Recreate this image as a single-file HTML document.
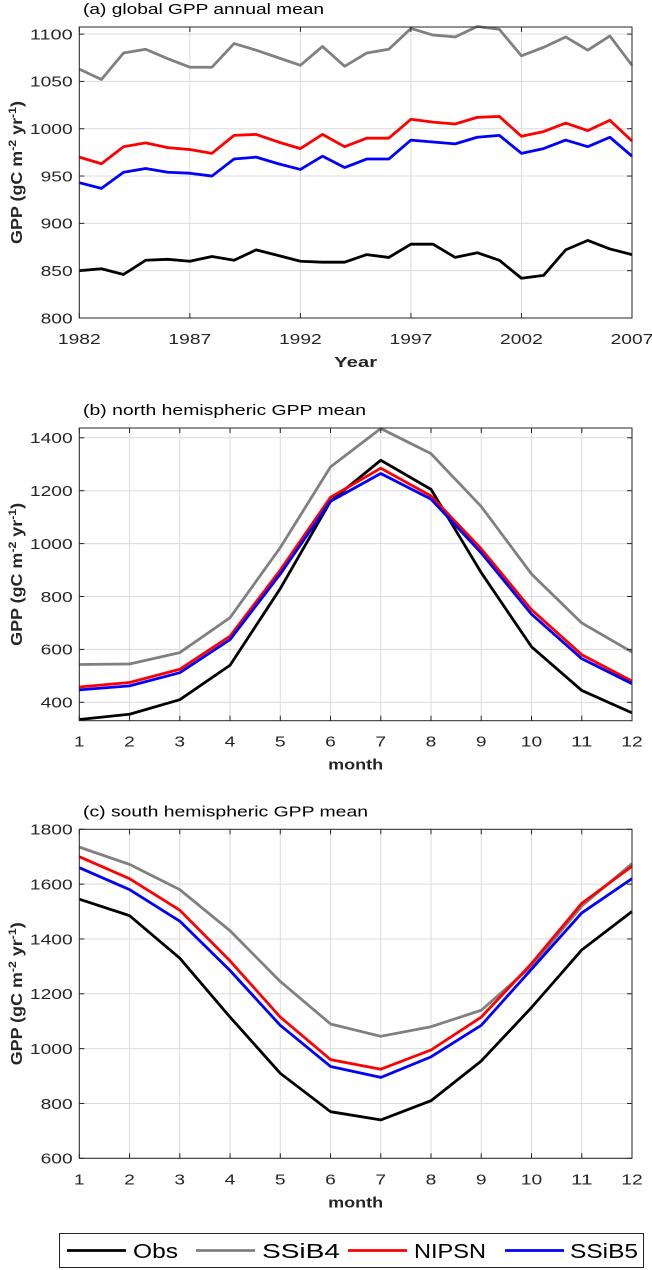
<!DOCTYPE html>
<html><head><meta charset="utf-8"><style>
html,body{margin:0;padding:0;background:#fff;}
svg{display:block;font-family:"Liberation Sans",Arial,sans-serif;}
</style></head><body>
<svg id="fig" width="652" height="1270" viewBox="0 0 652 1270"></svg>
<script>
const years=[1982,1983,1984,1985,1986,1987,1988,1989,1990,1991,1992,1993,1994,1995,1996,1997,1998,1999,2000,2001,2002,2003,2004,2005,2006,2007];
const aObs=[850,852,846,861,862,860,865,861,872,866,860,859,859,867,864,878,878,864,869,861,842,845,872,882,873,867];
const aSSiB4=[1063,1052,1080,1084,1074,1065,1065,1090,1083,1075,1067,1087,1066,1080,1084,1106,1099,1097,1108,1105,1077,1086,1097,1083,1098,1067];
const aNIPSN=[970,963,981,985,980,978,974,993,994,986,979,994,981,990,990,1010,1007,1005,1012,1013,992,997,1006,998,1009,987];
const aSSiB5=[943,937,954,958,954,953,950,968,970,963,957,971,959,968,968,988,986,984,991,993,974,979,988,981,991,971];
const months=[1,2,3,4,5,6,7,8,9,10,11,12];
const bObs=[335,355,410,540,830,1160,1315,1205,890,610,445,360];
const bSSiB4=[543,545,588,720,985,1290,1435,1340,1140,885,700,590];
const bNIPSN=[458,475,525,650,900,1175,1285,1180,980,750,580,480];
const bSSiB5=[447,462,512,637,885,1160,1265,1168,965,733,565,470];
const cObs=[1545,1485,1330,1115,910,770,740,810,955,1150,1360,1500];
const cSSiB4=[1735,1672,1580,1430,1245,1090,1045,1080,1140,1300,1520,1675];
const cNIPSN=[1700,1620,1505,1320,1115,960,925,995,1115,1310,1530,1665];
const cSSiB5=[1660,1580,1465,1285,1085,935,895,970,1085,1290,1495,1620];
const aXTicks=[1982,1987,1992,1997,2002,2007];
const aYTicks=[800,850,900,950,1000,1050,1100];
const bYTicks=[400,600,800,1000,1200,1400];
const cYTicks=[600,800,1000,1200,1400,1600,1800];
const seriesNames=["Obs","SSiB4","NIPSN","SSiB5"];
const colors=["#000000","#808080","#ff0000","#0000ff"];

const NS="http://www.w3.org/2000/svg";
const svg=document.getElementById('fig');
function mk(tag,attrs,parent){const e=document.createElementNS(NS,tag);for(const k in attrs)e.setAttribute(k,attrs[k]);(parent||svg).appendChild(e);return e;}
const DIGW=10.7;

function panel(key,cfg){
  const g=mk('g',{});
  
  
  const L=79.3,R=632,T=cfg.top,B=cfg.bottom;
  const sx=v=>L+(v-cfg.xmin)/(cfg.xmax-cfg.xmin)*(R-L);
  const sy=v=>B-(v-cfg.ymin)/(cfg.ymax-cfg.ymin)*(B-T);
  cfg.xticks.forEach(t=>{const l=mk('line',{x1:sx(t),x2:sx(t),y1:T,y2:B,stroke:'#dcdcdc','stroke-width':1},g);});
  cfg.yticks.forEach(t=>{const l=mk('line',{x1:L,x2:R,y1:sy(t),y2:sy(t),stroke:'#dcdcdc','stroke-width':1},g);});
  cfg.series.forEach((s,i)=>{
    const pts=cfg.x.map((xv,j)=>sx(xv).toFixed(2)+','+sy(s[j]).toFixed(2)).join(' ');
    const p=mk('polyline',{points:pts,fill:'none',stroke:colors[i],'stroke-width':2.8,'stroke-linejoin':'round'},g);
    
    
  });
  const bx=mk('rect',{x:L,y:T,width:R-L,height:B-T,fill:'none',stroke:'#262626','stroke-width':1},g);
  
  
  cfg.xticks.forEach(t=>{
    mk('line',{x1:sx(t),x2:sx(t),y1:B,y2:B-5,stroke:'#262626'},g);
    mk('line',{x1:sx(t),x2:sx(t),y1:T,y2:T+5,stroke:'#262626'},g);
    const s=String(t);
    const tx=mk('text',{x:sx(t),y:B+26,'font-size':14.5,'text-anchor':'middle',fill:'#262626',textLength:s.length*DIGW,lengthAdjust:'spacingAndGlyphs'},g);
    tx.textContent=s;
    
    
  });
  cfg.yticks.forEach(t=>{
    mk('line',{x1:L,x2:L+5,y1:sy(t),y2:sy(t),stroke:'#262626'},g);
    mk('line',{x1:R,x2:R-5,y1:sy(t),y2:sy(t),stroke:'#262626'},g);
    const s=String(t);
    const tx=mk('text',{x:L-6.6,y:sy(t)+5.3,'font-size':14.5,'text-anchor':'end',fill:'#262626',textLength:s.length*DIGW,lengthAdjust:'spacingAndGlyphs'},g);
    tx.textContent=s;
    
    
  });
  const ti=mk('text',{x:83,y:T-13,'font-size':15,fill:'#000',textLength:cfg.titleW,lengthAdjust:'spacingAndGlyphs'},g);
  ti.textContent=cfg.title;
  
  
  const xl=mk('text',{x:(L+R)/2,y:B+49,'font-size':15,'font-weight':'bold','text-anchor':'middle',fill:'#262626',textLength:cfg.xlabelW,lengthAdjust:'spacingAndGlyphs'},g);
  xl.textContent=cfg.xlabel;
  
  
  const cy=(T+B)/2;
  const yl=mk('text',{x:0,y:0,'font-size':16,'font-weight':'bold','text-anchor':'middle',fill:'#262626',transform:`translate(22,${cy}) rotate(-90) scale(1.12,1)`},g);
  yl.innerHTML='GPP (gC m<tspan dy="-6" font-size="11">-2</tspan><tspan dy="6"> yr</tspan><tspan dy="-6" font-size="11">-1</tspan><tspan dy="6">)</tspan>';
  
  
}
panel('a',{top:27,bottom:318,xmin:1982,xmax:2007,ymin:800,ymax:1107.5,x:years,xticks:aXTicks,yticks:aYTicks,series:[aObs,aSSiB4,aNIPSN,aSSiB5],title:'(a) global GPP annual mean',titleW:241,xlabel:'Year',xlabelW:43});
panel('b',{top:428,bottom:720.7,xmin:1,xmax:12,ymin:330.5,ymax:1437,x:months,xticks:months,yticks:bYTicks,series:[bObs,bSSiB4,bNIPSN,bSSiB5],title:'(b) north hemispheric GPP mean',titleW:283,xlabel:'month',xlabelW:55});
panel('c',{top:829.3,bottom:1158.3,xmin:1,xmax:12,ymin:600,ymax:1800,x:months,xticks:months,yticks:cYTicks,series:[cObs,cSSiB4,cNIPSN,cSSiB5],title:'(c) south hemispheric GPP mean',titleW:285,xlabel:'month',xlabelW:55});

const lg=mk('g',{});


mk('rect',{x:59.5,y:1233.5,width:584,height:34,fill:'#fff',stroke:'#262626','stroke-width':1},lg);
const legX=[67,196,348,505];
const labX=[133,262,414,570];
const labW=[45,78,72,68];
seriesNames.forEach((n,i)=>{
  const ln=mk('line',{x1:legX[i],x2:legX[i]+59,y1:1250.5,y2:1250.5,stroke:colors[i],'stroke-width':2.8},lg);
  
  
  const t=mk('text',{x:labX[i],y:1258,'font-size':20,fill:'#000',textLength:labW[i],lengthAdjust:'spacingAndGlyphs'},lg);
  t.textContent=n;
  
  
});
</script>
</body></html>
